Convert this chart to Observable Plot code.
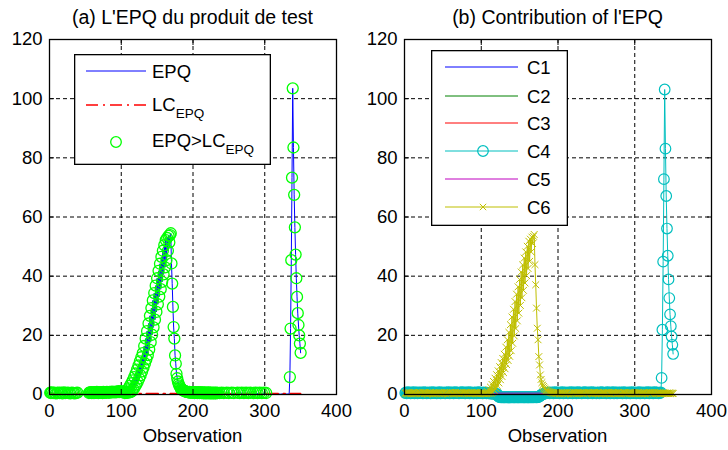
<!DOCTYPE html>
<html>
<head>
<meta charset="utf-8">
<script src="https://cdn.jsdelivr.net/npm/d3@7"></script>
<script src="https://cdn.jsdelivr.net/npm/@observablehq/plot@0.6"></script>
<style>
  body { margin: 0; background: #fff; font-family: "Liberation Sans", Arial, sans-serif; color: #000; }
  #wrap { position: relative; width: 728px; height: 450px; overflow: hidden; }
  .panel { position: absolute; top: 0; width: 364px; height: 450px; }
  .title { height: 28px; line-height: 28px; font-size: 19.5px; white-space: nowrap; text-align: center; position: relative; top: 3px; }
  .xlabel { height: 20px; line-height: 20px; font-size: 18.5px; text-align: center; position: relative; top: -2px; }
  .panel svg.plot { display: block; }
</style>
</head>
<body>
<div id="wrap">
  <div class="panel" id="panelA" style="left:0">
    <div class="title" style="padding-left:49px;width:287px">(a) L'EPQ du produit de test</div>
    <div class="chart"></div>
    <div class="xlabel" style="padding-left:49px;width:287px">Observation</div>
  </div>
  <div class="panel" id="panelB" style="left:364px">
    <div class="title" style="padding-left:40px;width:307px">(b) Contribution of l'EPQ</div>
    <div class="chart"></div>
    <div class="xlabel" style="padding-left:40px;width:307px">Observation</div>
  </div>
</div>
<script>
// Axis ticks and grid positions
const xTicks = [0, 100, 200, 300, 400];
const yTicks = [0, 20, 40, 60, 80, 100, 120];
const xGrid = [100, 200, 300];
const yGrid = [20, 40, 60, 80, 100];

// Control limit of the EPQ statistic
const lcEpq = 0.3;

// EPQ statistic per observation (1..350)
const epq = [
  0.6,0.5,0.7,0.2,0.5,0.1,0.6,0.2,0.4,0.2,
  0.5,0.6,0.2,0.5,0.1,0.6,0.2,0.4,0.2,0.7,
  0.2,0.5,0.1,0.2,0.6,0.2,0.5,0.1,0.4,0.2,
  0.6,0.2,0.5,0.1,0.4,0.2,0.5,0.2,0.6,0.2,
  0.1,0.2,0.1,0.2,0.2,0.1,0.2,0.1,0.2,0.1,
  0.2,0.1,0.2,0.2,0.5,0.7,0.6,0.8,0.5,0.6,
  0.7,0.5,0.8,0.6,0.7,0.9,0.6,0.5,0.8,0.7,
  0.6,0.8,0.7,0.5,0.9,0.6,0.8,0.7,0.6,0.9,
  0.7,0.8,0.6,0.9,0.7,0.8,1.0,0.7,0.9,0.8,
  0.9,0.7,1.0,0.8,0.9,1.1,0.8,1.0,0.9,1.1,
  0.8,0.9,0.7,0.9,0.5,0.8,0.6,1.4,0.6,2.1,
  0.7,2.9,0.8,3.8,1.1,4.8,1.8,5.9,2.5,7.1,
  3.4,8.4,4.3,9.8,5.4,11.2,6.5,12.6,7.8,14.0,
  9.1,16.4,10.5,18.9,11.9,21.4,13.3,24.0,15.2,26.6,
  17.7,29.2,20.2,31.8,22.7,34.3,25.3,36.8,27.9,39.3,
  30.5,41.8,33.1,44.2,35.6,46.5,38.1,48.6,40.6,50.5,
  43.0,52.2,45.4,52.9,48.6,53.6,51.4,53.9,54.5,44.3,
  37.5,29.6,22.8,18.9,13.2,10.4,7.0,5.5,4.4,3.6,
  3.0,2.5,2.1,1.8,1.6,1.4,1.3,1.2,1.1,1.0,
  0.9,0.9,0.8,0.7,0.9,0.6,0.8,0.7,0.6,0.8,
  0.7,0.5,0.8,0.6,0.7,0.5,0.6,0.8,0.5,0.7,
  0.6,0.5,0.7,0.6,0.4,0.7,0.5,0.6,0.4,0.6,
  0.5,0.7,0.4,0.6,0.5,0.4,0.6,0.5,0.4,0.6,
  0.5,0.4,0.6,0.5,0.2,0.1,0.5,0.2,0.1,0.6,
  0.2,0.1,0.5,0.2,0.2,0.1,0.6,0.2,0.1,0.5,
  0.2,0.1,0.2,0.6,0.1,0.2,0.5,0.1,0.2,0.2,
  0.1,0.6,0.2,0.1,0.5,0.2,0.1,0.6,0.2,0.1,
  0.5,0.2,0.2,0.6,0.1,0.2,0.5,0.2,0.1,0.6,
  0.2,0.1,0.2,0.5,0.2,0.1,0.6,0.2,0.1,0.5,
  0.2,0.1,0.6,0.2,0.1,0.5,0.2,0.2,0.6,0.1,
  0.2,0.5,0.1,0.2,0.2,0.1,0.2,0.1,0.2,0.1,
  0.2,0.1,0.2,0.2,0.1,0.2,0.1,0.2,0.2,0.1,
  0.2,0.1,0.2,0.1,0.2,0.2,0.1,0.2,0.1,0.2,
  0.1,0.2,0.2,0.1,5.9,22.3,45.4,73.3,103.5,83.5,
  67.5,56.5,47.3,39.3,33.0,27.5,23.5,20.0,17.2,14.1
];

// Contributions of the six variables to the EPQ
const c1 = [
  0.1,0.0,0.1,0.2,0.1,0.0,0.1,0.1,0.0,0.1, 0.2,0.1,0.0,0.1,0.1,0.2,0.0,0.1,0.1,0.0,
  0.1,0.2,0.1,0.0,0.1,0.1,0.0,0.2,0.1,0.1, 0.0,0.1,0.2,0.1,0.0,0.1,0.1,0.0,0.2,0.1,
  0.1,0.0,0.1,0.2,0.1,0.0,0.1,0.1,0.0,0.1, 0.2,0.1,0.0,0.1,0.1,0.2,0.0,0.1,0.1,0.0,
  0.1,0.2,0.1,0.0,0.1,0.1,0.0,0.2,0.1,0.1, 0.0,0.1,0.2,0.1,0.0,0.1,0.1,0.0,0.2,0.1,
  0.1,0.0,0.1,0.2,0.1,0.0,0.1,0.1,0.0,0.1, 0.2,0.1,0.0,0.1,0.1,0.2,0.0,0.1,0.1,0.0,
  0.1,0.2,0.1,0.0,0.1,0.1,0.0,0.2,0.1,0.1, 0.0,0.1,0.2,0.1,0.0,0.1,0.1,0.0,0.2,0.1,
  0.1,0.0,0.1,0.2,0.1,0.0,0.1,0.1,0.0,0.1, 0.2,0.1,0.0,0.1,0.1,0.2,0.0,0.1,0.1,0.0,
  0.1,0.2,0.1,0.0,0.1,0.1,0.0,0.2,0.1,0.1, 0.0,0.1,0.2,0.1,0.0,0.1,0.1,0.0,0.2,0.1,
  0.1,0.0,0.1,0.2,0.1,0.0,0.1,0.1,0.0,0.1, 0.2,0.1,0.0,0.1,0.1,0.2,0.0,0.1,0.1,0.0,
  0.1,0.2,0.1,0.0,0.1,0.1,0.0,0.2,0.1,0.1, 0.0,0.1,0.2,0.1,0.0,0.1,0.1,0.0,0.2,0.1,
  0.1,0.0,0.1,0.2,0.1,0.0,0.1,0.1,0.0,0.1, 0.2,0.1,0.0,0.1,0.1,0.2,0.0,0.1,0.1,0.0,
  0.1,0.2,0.1,0.0,0.1,0.1,0.0,0.2,0.1,0.1, 0.0,0.1,0.2,0.1,0.0,0.1,0.1,0.0,0.2,0.1,
  0.1,0.0,0.1,0.2,0.1,0.0,0.1,0.1,0.0,0.1, 0.2,0.1,0.0,0.1,0.1,0.2,0.0,0.1,0.1,0.0,
  0.1,0.2,0.1,0.0,0.1,0.1,0.0,0.2,0.1,0.1, 0.0,0.1,0.2,0.1,0.0,0.1,0.1,0.0,0.2,0.1,
  0.1,0.0,0.1,0.2,0.1,0.0,0.1,0.1,0.0,0.1, 0.2,0.1,0.0,0.1,0.1,0.2,0.0,0.1,0.1,0.0,
  0.1,0.2,0.1,0.0,0.1,0.1,0.0,0.2,0.1,0.1, 0.0,0.1,0.2,0.1,0.0,0.1,0.1,0.0,0.2,0.1,
  0.1,0.0,0.1,0.2,0.1,0.0,0.1,0.1,0.0,0.1, 0.2,0.1,0.0,0.1,0.1,0.2,0.0,0.1,0.1,0.0,
  0.1,0.2,0.1,0.0,0.1,0.1,0.0,0.2,0.1,0.1
];
const c2 = [
  0.0,0.1,0.1,0.0,0.2,0.1,0.0,0.1,0.1,0.0, 0.1,0.0,0.2,0.1,0.0,0.1,0.1,0.0,0.1,0.2,
  0.0,0.1,0.1,0.0,0.2,0.1,0.0,0.1,0.1,0.0, 0.1,0.0,0.2,0.1,0.0,0.1,0.1,0.0,0.1,0.2,
  0.0,0.1,0.1,0.0,0.2,0.1,0.0,0.1,0.1,0.0, 0.1,0.0,0.2,0.1,0.0,0.1,0.1,0.0,0.1,0.2,
  0.0,0.1,0.1,0.0,0.2,0.1,0.0,0.1,0.1,0.0, 0.1,0.0,0.2,0.1,0.0,0.1,0.1,0.0,0.1,0.2,
  0.0,0.1,0.1,0.0,0.2,0.1,0.0,0.1,0.1,0.0, 0.1,0.0,0.2,0.1,0.0,0.1,0.1,0.0,0.1,0.2,
  0.0,0.1,0.1,0.0,0.2,0.1,0.0,0.1,0.1,0.0, 0.1,0.0,0.2,0.1,0.0,0.1,0.1,0.0,0.1,0.2,
  0.0,0.1,0.1,0.0,0.2,0.1,0.0,0.1,0.1,0.0, 0.1,0.0,0.2,0.1,0.0,0.1,0.1,0.0,0.1,0.2,
  0.0,0.1,0.1,0.0,0.2,0.1,0.0,0.1,0.1,0.0, 0.1,0.0,0.2,0.1,0.0,0.1,0.1,0.0,0.1,0.2,
  0.0,0.1,0.1,0.0,0.2,0.1,0.0,0.1,0.1,0.0, 0.1,0.0,0.2,0.1,0.0,0.1,0.1,0.0,0.1,0.2,
  0.0,0.1,0.1,0.0,0.2,0.1,0.0,0.1,0.1,0.0, 0.1,0.0,0.2,0.1,0.0,0.1,0.1,0.0,0.1,0.2,
  0.0,0.1,0.1,0.0,0.2,0.1,0.0,0.1,0.1,0.0, 0.1,0.0,0.2,0.1,0.0,0.1,0.1,0.0,0.1,0.2,
  0.0,0.1,0.1,0.0,0.2,0.1,0.0,0.1,0.1,0.0, 0.1,0.0,0.2,0.1,0.0,0.1,0.1,0.0,0.1,0.2,
  0.0,0.1,0.1,0.0,0.2,0.1,0.0,0.1,0.1,0.0, 0.1,0.0,0.2,0.1,0.0,0.1,0.1,0.0,0.1,0.2,
  0.0,0.1,0.1,0.0,0.2,0.1,0.0,0.1,0.1,0.0, 0.1,0.0,0.2,0.1,0.0,0.1,0.1,0.0,0.1,0.2,
  0.0,0.1,0.1,0.0,0.2,0.1,0.0,0.1,0.1,0.0, 0.1,0.0,0.2,0.1,0.0,0.1,0.1,0.0,0.1,0.2,
  0.0,0.1,0.1,0.0,0.2,0.1,0.0,0.1,0.1,0.0, 0.1,0.0,0.2,0.1,0.0,0.1,0.1,0.0,0.1,0.2,
  0.0,0.1,0.1,0.0,0.2,0.1,0.0,0.1,0.1,0.0, 0.1,0.0,0.2,0.1,0.0,0.1,0.1,0.0,0.1,0.2,
  0.0,0.1,0.1,0.0,0.2,0.1,0.0,0.1,0.1,0.0
];
const c3 = [
  0.1,0.1,0.0,0.1,0.2,0.0,0.1,0.1,0.2,0.0, 0.1,0.1,0.0,0.2,0.1,0.0,0.1,0.2,0.1,0.0,
  0.1,0.1,0.0,0.1,0.2,0.0,0.1,0.1,0.2,0.0, 0.1,0.1,0.0,0.2,0.1,0.0,0.1,0.2,0.1,0.0,
  0.1,0.1,0.0,0.1,0.2,0.0,0.1,0.1,0.2,0.0, 0.1,0.1,0.0,0.2,0.1,0.0,0.1,0.2,0.1,0.0,
  0.1,0.1,0.0,0.1,0.2,0.0,0.1,0.1,0.2,0.0, 0.1,0.1,0.0,0.2,0.1,0.0,0.1,0.2,0.1,0.0,
  0.1,0.1,0.0,0.1,0.2,0.0,0.1,0.1,0.2,0.0, 0.1,0.1,0.0,0.2,0.1,0.0,0.1,0.2,0.1,0.0,
  0.1,0.1,0.0,0.1,0.2,0.0,0.1,0.1,0.2,0.0, 0.1,0.1,0.0,0.2,0.1,0.0,0.1,0.2,0.1,0.0,
  0.1,0.1,0.0,0.1,0.2,0.0,0.1,0.1,0.2,0.0, 0.1,0.1,0.0,0.2,0.1,0.0,0.1,0.2,0.1,0.0,
  0.1,0.1,0.0,0.1,0.2,0.0,0.1,0.1,0.2,0.0, 0.1,0.1,0.0,0.2,0.1,0.0,0.1,0.2,0.1,0.0,
  0.1,0.1,0.0,0.1,0.2,0.0,0.1,0.1,0.2,0.0, 0.1,0.1,0.0,0.2,0.1,0.0,0.1,0.2,0.1,0.0,
  0.1,0.1,0.0,0.1,0.2,0.0,0.1,0.1,0.2,0.0, 0.1,0.1,0.0,0.2,0.1,0.0,0.1,0.2,0.1,0.0,
  0.1,0.1,0.0,0.1,0.2,0.0,0.1,0.1,0.2,0.0, 0.1,0.1,0.0,0.2,0.1,0.0,0.1,0.2,0.1,0.0,
  0.1,0.1,0.0,0.1,0.2,0.0,0.1,0.1,0.2,0.0, 0.1,0.1,0.0,0.2,0.1,0.0,0.1,0.2,0.1,0.0,
  0.1,0.1,0.0,0.1,0.2,0.0,0.1,0.1,0.2,0.0, 0.1,0.1,0.0,0.2,0.1,0.0,0.1,0.2,0.1,0.0,
  0.1,0.1,0.0,0.1,0.2,0.0,0.1,0.1,0.2,0.0, 0.1,0.1,0.0,0.2,0.1,0.0,0.1,0.2,0.1,0.0,
  0.1,0.1,0.0,0.1,0.2,0.0,0.1,0.1,0.2,0.0, 0.1,0.1,0.0,0.2,0.1,0.0,0.1,0.2,0.1,0.0,
  0.1,0.1,0.0,0.1,0.2,0.0,0.1,0.1,0.2,0.0, 0.1,0.1,0.0,0.2,0.1,0.0,0.1,0.2,0.1,0.0,
  0.1,0.1,0.0,0.1,0.2,0.0,0.1,0.1,0.2,0.0, 0.1,0.1,0.0,0.2,0.1,0.0,0.1,0.2,0.1,0.0,
  0.1,0.1,0.0,0.1,0.2,0.0,0.1,0.1,0.2,0.0
];
const c4 = [
  0.5,0.7,0.4,0.6,0.8,0.5,0.6,0.4,0.7,0.5,
  0.6,0.8,0.4,0.5,0.7,0.6,0.4,0.7,0.5,0.6,
  0.7,0.5,0.6,0.4,0.8,0.5,0.6,0.7,0.4,0.6,
  0.5,0.7,0.6,0.4,0.6,0.8,0.5,0.6,0.7,0.5,
  0.6,0.4,0.7,0.5,0.6,0.8,0.4,0.6,0.5,0.7,
  0.5,0.6,0.4,0.7,0.6,0.5,0.8,0.6,0.4,0.7,
  0.6,0.5,0.7,0.4,0.6,0.8,0.5,0.6,0.7,0.5,
  0.4,0.6,0.7,0.5,0.8,0.6,0.5,0.7,0.4,0.6,
  0.7,0.5,0.6,0.8,0.4,0.6,0.7,0.5,0.6,0.4,
  0.6,0.7,0.5,0.4,0.6,0.8,0.5,0.7,0.6,0.5,
  0.6,0.4,0.7,0.5,0.6,0.5,0.4,0.6,0.5,0.4,
  0.5,0.3,0.4,0.3,0.4,0.2,0.3,0.2,0.2,0.1,
  0.1,-0.5,-0.8,-0.9,-0.9,-1.0,-0.9,-0.9,-1.0,-0.9,
  -1.0,-0.9,-0.9,-1.0,-0.9,-1.0,-0.9,-0.9,-1.0,-0.9,
  -0.9,-1.0,-0.9,-1.0,-0.9,-0.9,-1.0,-0.9,-1.0,-0.9,
  -0.9,-1.0,-0.9,-0.9,-1.0,-0.9,-1.0,-0.9,-0.9,-1.0,
  -0.9,-1.0,-0.9,-0.9,-1.0,-0.9,-0.9,-1.0,-0.9,-0.9,
  -0.9,-1.0,-0.9,-0.9,-0.8,-0.6,-0.4,-0.2,0.0,0.1,
  0.2,0.3,0.4,0.5,0.4,0.6,0.5,0.7,0.4,0.6,
  0.5,0.7,0.6,0.4,0.6,0.8,0.5,0.6,0.7,0.5,
  0.6,0.4,0.7,0.5,0.6,0.8,0.4,0.6,0.5,0.7,
  0.5,0.6,0.4,0.7,0.6,0.5,0.8,0.6,0.4,0.7,
  0.6,0.5,0.7,0.4,0.6,0.8,0.5,0.6,0.7,0.5,
  0.4,0.6,0.7,0.5,0.8,0.6,0.5,0.7,0.4,0.6,
  0.7,0.5,0.6,0.8,0.4,0.6,0.7,0.5,0.6,0.4,
  0.6,0.7,0.5,0.4,0.6,0.8,0.5,0.7,0.6,0.5,
  0.5,0.7,0.4,0.6,0.8,0.5,0.6,0.4,0.7,0.5,
  0.6,0.8,0.4,0.5,0.7,0.6,0.4,0.7,0.5,0.6,
  0.7,0.5,0.6,0.4,0.8,0.5,0.6,0.7,0.4,0.6,
  0.5,0.7,0.6,0.4,0.6,0.8,0.5,0.6,0.7,0.5,
  0.6,0.4,0.7,0.5,0.6,0.8,0.4,0.6,0.5,0.7,
  0.5,0.6,0.4,0.7,0.6,0.5,0.8,0.6,0.4,0.7,
  0.6,0.5,0.7,0.4,0.6,0.8,0.5,0.6,0.7,0.5,
  0.4,0.6,0.5,0.7,5.6,21.9,44.9,72.8,103.1,83.1,
  67.1,56.1,46.9,38.9,32.6,27.1,23.1,19.6,16.8,13.7
];
const c5 = [
  0.1,0.1,0.2,0.1,0.1,0.2,0.1,0.1,0.2,0.1, 0.1,0.2,0.1,0.1,0.2,0.1,0.1,0.2,0.1,0.1,
  0.1,0.1,0.2,0.1,0.1,0.2,0.1,0.1,0.2,0.1, 0.1,0.2,0.1,0.1,0.2,0.1,0.1,0.2,0.1,0.1,
  0.1,0.1,0.2,0.1,0.1,0.2,0.1,0.1,0.2,0.1, 0.1,0.2,0.1,0.1,0.2,0.1,0.1,0.2,0.1,0.1,
  0.1,0.1,0.2,0.1,0.1,0.2,0.1,0.1,0.2,0.1, 0.1,0.2,0.1,0.1,0.2,0.1,0.1,0.2,0.1,0.1,
  0.1,0.1,0.2,0.1,0.1,0.2,0.1,0.1,0.2,0.1, 0.1,0.2,0.1,0.1,0.2,0.1,0.1,0.2,0.1,0.1,
  0.1,0.1,0.2,0.1,0.1,0.2,0.1,0.1,0.2,0.1, 0.1,0.2,0.2,0.2,0.3,0.3,0.3,0.4,0.4,0.4,
  0.4,0.45,0.45,0.45,0.45,0.45,0.45,0.45,0.45,0.45, 0.45,0.45,0.45,0.45,0.45,0.45,0.45,0.45,0.45,0.45,
  0.45,0.45,0.45,0.45,0.45,0.45,0.45,0.45,0.45,0.45, 0.45,0.45,0.45,0.45,0.45,0.45,0.45,0.45,0.45,0.45,
  0.45,0.45,0.45,0.45,0.45,0.45,0.45,0.45,0.45,0.45, 0.45,0.45,0.45,0.45,0.45,0.45,0.45,0.4,0.4,0.3,
  0.2,0.2,0.1,0.1,0.2,0.1,0.1,0.2,0.1,0.1, 0.1,0.1,0.2,0.1,0.1,0.2,0.1,0.1,0.2,0.1,
  0.1,0.2,0.1,0.1,0.2,0.1,0.1,0.2,0.1,0.1, 0.1,0.1,0.2,0.1,0.1,0.2,0.1,0.1,0.2,0.1,
  0.1,0.2,0.1,0.1,0.2,0.1,0.1,0.2,0.1,0.1, 0.1,0.1,0.2,0.1,0.1,0.2,0.1,0.1,0.2,0.1,
  0.1,0.2,0.1,0.1,0.2,0.1,0.1,0.2,0.1,0.1, 0.1,0.1,0.2,0.1,0.1,0.2,0.1,0.1,0.2,0.1,
  0.1,0.2,0.1,0.1,0.2,0.1,0.1,0.2,0.1,0.1, 0.1,0.1,0.2,0.1,0.1,0.2,0.1,0.1,0.2,0.1,
  0.1,0.2,0.1,0.1,0.2,0.1,0.1,0.2,0.1,0.1, 0.1,0.1,0.2,0.1,0.1,0.2,0.1,0.1,0.2,0.1,
  0.1,0.2,0.1,0.1,0.2,0.1,0.1,0.2,0.1,0.1, 0.1,0.1,0.2,0.1,0.1,0.2,0.1,0.1,0.2,0.1,
  0.1,0.2,0.1,0.1,0.2,0.1,0.1,0.2,0.1,0.1, 0.1,0.1,0.2,0.1,0.1,0.2,0.1,0.1,0.2,0.1,
  0.1,0.2,0.1,0.1,0.2,0.1,0.1,0.2,0.1,0.1
];
const c6 = [
  0.5,0.3,0.6,0.2,0.4,0.7,0.3,0.5,0.2,0.6,
  0.4,0.7,0.3,0.5,0.6,0.2,0.5,0.4,0.7,0.3,
  0.6,0.4,0.2,0.5,0.7,0.3,0.6,0.4,0.5,0.2,
  0.5,0.6,0.3,0.7,0.4,0.5,0.2,0.6,0.4,0.3,
  0.6,0.2,0.5,0.4,0.7,0.3,0.5,0.6,0.2,0.4,
  0.5,0.7,0.3,0.4,0.6,0.5,0.2,0.6,0.4,0.7,
  0.3,0.5,0.6,0.2,0.5,0.7,0.4,0.3,0.6,0.5,
  0.4,0.6,0.2,0.7,0.5,0.3,0.6,0.4,0.5,0.7,
  0.3,0.5,0.6,0.4,0.2,0.6,0.5,0.7,0.3,0.5,
  0.6,0.4,0.7,0.3,0.5,0.6,0.4,0.2,0.6,0.5,
  0.4,0.6,0.3,0.5,0.3,0.4,0.3,1.0,0.3,1.7,
  0.4,2.5,0.5,3.4,0.7,4.4,1.4,5.5,2.1,6.7,
  3.0,8.0,3.9,9.4,5.0,10.8,6.1,12.2,7.4,13.6,
  8.7,16.0,10.1,18.5,11.5,21.0,12.9,23.6,14.8,26.2,
  17.3,28.8,19.8,31.4,22.3,33.9,24.9,36.4,27.5,38.9,
  30.1,41.4,32.7,43.8,35.2,46.1,37.7,48.2,40.2,50.1,
  42.6,51.8,45.0,52.5,48.2,53.2,51.0,53.5,54.1,43.9,
  37.1,29.2,22.4,18.5,12.8,10.0,6.6,5.1,4.0,3.2,
  2.7,2.2,1.8,1.5,1.3,1.1,1.0,0.9,0.8,0.7,
  0.6,0.7,0.5,0.4,0.6,0.3,0.5,0.4,0.3,0.5,
  0.6,0.2,0.5,0.4,0.7,0.3,0.5,0.6,0.2,0.4,
  0.5,0.7,0.3,0.4,0.6,0.5,0.2,0.6,0.4,0.7,
  0.3,0.5,0.6,0.2,0.5,0.7,0.4,0.3,0.6,0.5,
  0.4,0.6,0.2,0.7,0.5,0.3,0.6,0.4,0.5,0.7,
  0.3,0.5,0.6,0.4,0.2,0.6,0.5,0.7,0.3,0.5,
  0.6,0.4,0.7,0.3,0.5,0.6,0.4,0.2,0.6,0.5,
  0.5,0.3,0.6,0.2,0.4,0.7,0.3,0.5,0.2,0.6,
  0.4,0.7,0.3,0.5,0.6,0.2,0.5,0.4,0.7,0.3,
  0.6,0.4,0.2,0.5,0.7,0.3,0.6,0.4,0.5,0.2,
  0.5,0.6,0.3,0.7,0.4,0.5,0.2,0.6,0.4,0.3,
  0.6,0.2,0.5,0.4,0.7,0.3,0.5,0.6,0.2,0.4,
  0.5,0.7,0.3,0.4,0.6,0.5,0.2,0.6,0.4,0.7,
  0.3,0.5,0.6,0.2,0.5,0.7,0.4,0.3,0.6,0.5,
  0.4,0.6,0.2,0.5,0.3,0.4,0.5,0.5,0.4,0.4,
  0.3,0.5,0.4,0.3,0.5,0.4,0.3,0.5,0.4,0.3
];

// Series names and colours for panel (b)
const contribNames = ["C1", "C2", "C3", "C4", "C5", "C6"];
const contribColors = ["#0000ff", "#008000", "#ff0000", "#00bfbf", "#bf00bf", "#bfbf00"];
const contribValues = [c1, c2, c3, c4, c5, c6];

const asPoints = (vals) => vals.map((v, i) => ({obs: i + 1, v}));

const gridStyle = {stroke: "#000", strokeOpacity: 1, strokeWidth: 1, strokeDasharray: "4,3"};

function frameAndAxes() {
  return [
    Plot.axisX(xTicks, {anchor: "bottom", tickSize: 0, tickPadding: 9, label: null}),
    Plot.axisY(yTicks, {anchor: "left", tickSize: 0, tickPadding: 7, label: null}),
    Plot.axisX(xTicks, {anchor: "bottom", tickSize: -5, tickFormat: () => "", label: null}),
    Plot.axisX(xTicks, {anchor: "top", tickSize: -5, tickFormat: () => "", label: null}),
    Plot.axisY(yTicks, {anchor: "left", tickSize: -5, tickFormat: () => "", label: null}),
    Plot.axisY(yTicks, {anchor: "right", tickSize: -5, tickFormat: () => "", label: null}),
    Plot.frame({stroke: "#000", strokeWidth: 1.3})
  ];
}

const common = {
  width: 364,
  height: 400,
  marginTop: 11,
  marginBottom: 34,
  x: {domain: [0, 400]},
  y: {domain: [0, 120]},
  style: {fontFamily: "Liberation Sans, Arial, sans-serif", fontSize: "18.5px", color: "#000", background: "transparent", overflow: "visible"}
};

// Panel (a): EPQ statistic, its control limit and the out-of-limit observations
const epqPts = asPoints(epq);
const exceed = epqPts.filter((d) => d.v > lcEpq);
const plotA = Plot.plot({
  ...common,
  marginLeft: 49,
  marginRight: 28,
  marks: [
    Plot.gridX(xGrid, gridStyle),
    Plot.gridY(yGrid, gridStyle),
    Plot.line(epqPts, {x: "obs", y: "v", stroke: "#0000ff", strokeWidth: 1}),
    Plot.line(epqPts, {x: "obs", y: () => lcEpq, stroke: "#ff0000", strokeWidth: 1.6, strokeDasharray: "12,5,2,5"}),
    Plot.dot(exceed, {x: "obs", y: "v", r: 5.5, stroke: "#00ff00", strokeWidth: 1.3, fill: "none"}),
    ...frameAndAxes()
  ]
});
plotA.classList.add("plot");
document.querySelector("#panelA .chart").append(plotA);

// Panel (b): contribution of each variable
const contribMarks = [];
contribValues.forEach((vals, k) => {
  const pts = asPoints(vals);
  contribMarks.push(Plot.line(pts, {x: "obs", y: "v", stroke: contribColors[k], strokeWidth: 1}));
  if (contribNames[k] === "C4") {
    contribMarks.push(Plot.dot(pts, {x: "obs", y: "v", r: 5.3, stroke: contribColors[k], strokeWidth: 1.2, fill: "none"}));
  }
  if (contribNames[k] === "C6") {
    contribMarks.push(Plot.dot(pts, {x: "obs", y: "v", r: 3.2, symbol: "times", stroke: contribColors[k], strokeWidth: 1}));
  }
});
const plotB = Plot.plot({
  ...common,
  marginLeft: 40,
  marginRight: 17,
  marks: [
    Plot.gridX(xGrid, gridStyle),
    Plot.gridY(yGrid, gridStyle),
    ...contribMarks,
    ...frameAndAxes()
  ]
});
plotB.classList.add("plot");
document.querySelector("#panelB .chart").append(plotB);

// Legends drawn over the plotting areas
const legendFont = "18.5px";
function legendBox(panel, left, top, w, h) {
  const svg = d3.select(panel).append("svg")
    .attr("width", w).attr("height", h)
    .style("position", "absolute").style("left", left + "px").style("top", top + "px")
    .style("font-family", "Liberation Sans, Arial, sans-serif").style("font-size", legendFont);
  svg.append("rect").attr("x", 0.65).attr("y", 0.65).attr("width", w - 1.3).attr("height", h - 1.3)
    .attr("fill", "#fff").attr("stroke", "#000").attr("stroke-width", 1.3);
  return svg;
}

// Legend (a)
{
  const svg = legendBox("#panelA", 74, 54, 197, 111);
  svg.append("line").attr("x1", 12).attr("x2", 72).attr("y1", 17).attr("y2", 17).attr("stroke", "#0000ff");
  svg.append("text").attr("x", 78).attr("y", 24).text("EPQ");
  svg.append("line").attr("x1", 12).attr("x2", 72).attr("y1", 51).attr("y2", 51)
    .attr("stroke", "#ff0000").attr("stroke-width", 1.6).attr("stroke-dasharray", "12,5,2,5");
  const t2 = svg.append("text").attr("x", 78).attr("y", 57);
  t2.append("tspan").text("LC");
  t2.append("tspan").attr("dy", 7).attr("font-size", "13.5px").text("EPQ");
  svg.append("circle").attr("cx", 42).attr("cy", 88).attr("r", 5.3).attr("fill", "none").attr("stroke", "#00ff00").attr("stroke-width", 1.3);
  const t3 = svg.append("text").attr("x", 78).attr("y", 93);
  t3.append("tspan").text("EPQ>LC");
  t3.append("tspan").attr("dy", 7).attr("font-size", "13.5px").text("EPQ");
}

// Legend (b)
{
  const svg = legendBox("#panelB", 67, 50, 137, 176);
  const rows = [17, 46, 73, 101, 129, 157];
  contribNames.forEach((name, k) => {
    const y = rows[k];
    svg.append("line").attr("x1", 14).attr("x2", 87).attr("y1", y).attr("y2", y).attr("stroke", contribColors[k]);
    if (name === "C4") {
      svg.append("circle").attr("cx", 52).attr("cy", y).attr("r", 5.3).attr("fill", "none").attr("stroke", contribColors[k]).attr("stroke-width", 1.2);
    }
    if (name === "C6") {
      svg.append("path").attr("d", `M${52 - 3.2},${y - 3.2}L${52 + 3.2},${y + 3.2}M${52 - 3.2},${y + 3.2}L${52 + 3.2},${y - 3.2}`)
        .attr("stroke", contribColors[k]);
    }
    svg.append("text").attr("x", 96).attr("y", y + 7).text(name);
  });
}
</script>
</body>
</html>
